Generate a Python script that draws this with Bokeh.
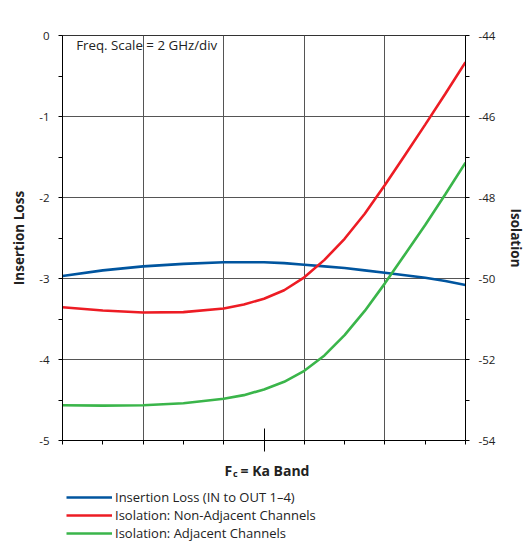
from bokeh.plotting import figure
from bokeh.layouts import column
from bokeh.models import (Range1d, LinearAxis, FixedTicker, Legend, LegendItem, Label)
from bokeh.embed import file_html
from bokeh.resources import INLINE

# Frequency offset from band centre (GHz), 2 GHz/div
freq = [-5, -4, -3, -2, -1, -0.5, 0, 0.5, 1, 1.5, 2, 2.5, 3, 3.5, 4, 4.5, 5]
# Insertion loss (dB, left axis)
insertion_loss = [-2.97, -2.90, -2.85, -2.82, -2.80, -2.80, -2.80, -2.81, -2.83, -2.85,
                  -2.87, -2.90, -2.93, -2.96, -2.99, -3.03, -3.08]
# Isolation, non-adjacent channels (dB, right axis)
iso_non_adj = [-50.71, -50.79, -50.84, -50.83, -50.74, -50.64, -50.50, -50.29, -49.97, -49.54,
               -49.02, -48.40, -47.69, -46.95, -46.20, -45.44, -44.66]
# Isolation, adjacent channels (dB, right axis)
iso_adj = [-53.13, -53.14, -53.13, -53.08, -52.97, -52.88, -52.74, -52.55, -52.28, -51.90,
           -51.40, -50.80, -50.12, -49.40, -48.68, -47.92, -47.14]

left_ticks = [0, -1, -2, -3, -4, -5]
right_ticks = [-44, -46, -48, -50, -52, -54]
grid_x = [-5, -3, -1, 1, 3, 5]
minor_x = [-5, -4, -3, -2, -1, 1, 2, 3, 4, 5]

series_names = ["Insertion Loss (IN to OUT 1\u20134)",
                "Isolation: Non-Adjacent Channels",
                "Isolation: Adjacent Channels"]
colors = ["#00559F", "#ED1C24", "#3AB54A"]

FONT = "Open Sans"
TXT = "#222222"
W = 515

p = figure(frame_width=403, frame_height=405,
           min_border_left=62, min_border_right=50, min_border_top=35, min_border_bottom=14,
           x_range=Range1d(-5, 5), y_range=Range1d(-5, 0),
           output_backend="svg", toolbar_location=None, tools="")
p.outline_line_color = "#333333"
p.background_fill_color = "white"
p.border_fill_color = "white"
p.extra_y_ranges = {"iso": Range1d(-54, -44)}

# x axis: long centre tick, small ticks every 1 GHz, no labels
xa = p.xaxis[0]
xa.ticker = FixedTicker(ticks=[0], minor_ticks=minor_x)
xa.major_tick_in = 12
xa.major_tick_out = 11
xa.minor_tick_in = 0
xa.minor_tick_out = 4
xa.major_label_overrides = {0: ""}
xa.major_label_text_font_size = "0px"
xa.major_label_standoff = 0
xa.axis_line_color = "black"

p.xgrid.ticker = FixedTicker(ticks=grid_x)
p.xgrid.grid_line_color = "#555555"
p.ygrid.ticker = FixedTicker(ticks=left_ticks)
p.ygrid.grid_line_color = "#555555"

ya = p.yaxis[0]
ya.ticker = FixedTicker(ticks=left_ticks, minor_ticks=[-0.5, -1.5, -2.5, -3.5, -4.5])
ya.major_label_overrides = {t: str(t) for t in left_ticks}
ya.axis_label = "Insertion Loss"
ya.axis_label_text_font = FONT
ya.axis_label_text_font_style = "bold"
ya.axis_label_text_font_size = "13.5px"
ya.axis_label_text_color = TXT
ya.axis_label_standoff = 8
ya.major_label_text_font = FONT
ya.major_label_text_font_size = "11.5px"
ya.major_label_text_color = TXT
ya.major_label_standoff = 9
ya.major_tick_in = 0
ya.major_tick_out = 4
ya.minor_tick_in = 0
ya.minor_tick_out = 4
ya.axis_line_color = "black"

ra = LinearAxis(y_range_name="iso")
ra.ticker = FixedTicker(ticks=right_ticks, minor_ticks=[-45, -47, -49, -51, -53])
ra.major_label_overrides = {t: str(t) for t in right_ticks}
ra.axis_label = "Isolation"
ra.axis_label_text_font = FONT
ra.axis_label_text_font_style = "bold"
ra.axis_label_text_font_size = "13.5px"
ra.axis_label_text_color = TXT
ra.axis_label_standoff = 9
ra.major_label_text_font = FONT
ra.major_label_text_font_size = "11.5px"
ra.major_label_text_color = TXT
ra.major_label_standoff = 9
ra.major_tick_in = 0
ra.major_tick_out = 4
ra.minor_tick_in = 0
ra.minor_tick_out = 4
ra.axis_line_color = "black"
p.add_layout(ra, "right")

p.line(freq, insertion_loss, line_color=colors[0], line_width=2.6)
p.line(freq, iso_non_adj, line_color=colors[1], line_width=2.6, y_range_name="iso")
p.line(freq, iso_adj, line_color=colors[2], line_width=2.6, y_range_name="iso")

p.add_layout(Label(x=-4.66, y=-0.12, text="Freq. Scale = 2 GHz/div",
                   text_font=FONT, text_font_size="13.3px", text_color=TXT,
                   text_baseline="middle", text_align="left"))

# Lower panel: axis title and legend (its frame is aligned with the chart frame)
q = figure(width=W, height=90, x_range=Range1d(0, 1), y_range=Range1d(0, 1),
           x_axis_type=None, y_axis_type=None, min_border=0,
           output_backend="svg", toolbar_location=None, tools="")
q.outline_line_color = None
q.grid.visible = False
q.background_fill_color = "white"
q.border_fill_color = "white"

q.add_layout(Label(x=162, y=74, x_units="screen", y_units="screen", text="F",
                   text_font=FONT, text_font_size="14px", text_font_style="bold",
                   text_color=TXT, text_baseline="alphabetic", text_align="left"))
q.add_layout(Label(x=170.5, y=71, x_units="screen", y_units="screen", text="c",
                   text_font=FONT, text_font_size="9px", text_font_style="bold",
                   text_color=TXT, text_baseline="alphabetic", text_align="left"))
q.add_layout(Label(x=178, y=74, x_units="screen", y_units="screen", text="= Ka Band",
                   text_font=FONT, text_font_size="14px", text_font_style="bold",
                   text_color=TXT, text_baseline="alphabetic", text_align="left"))

# legend keys (series values all lie outside this panel's 0..1 y range, so only the keys show)
k1 = q.line(freq, insertion_loss, line_color=colors[0], line_width=2.6)
k2 = q.line(freq, iso_non_adj, line_color=colors[1], line_width=2.6)
k3 = q.line(freq, iso_adj, line_color=colors[2], line_width=2.6)
legend = Legend(items=[LegendItem(label=series_names[0], renderers=[k1]),
                       LegendItem(label=series_names[1], renderers=[k2]),
                       LegendItem(label=series_names[2], renderers=[k3])],
                location=(4, 2), orientation="vertical",
                glyph_width=46, glyph_height=18, label_height=18, label_standoff=3,
                spacing=0, padding=0, margin=0,
                border_line_color=None, background_fill_alpha=0,
                label_text_font=FONT, label_text_font_size="13px",
                label_text_color=TXT)
q.add_layout(legend, "center")

layout = column(p, q, spacing=0)
open("out.html", "w").write(file_html(layout, INLINE))
